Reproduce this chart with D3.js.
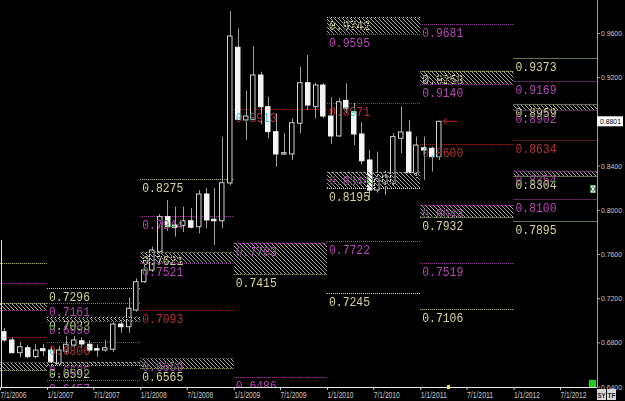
<!DOCTYPE html>
<html>
<head>
<meta charset="utf-8">
<script src="https://cdn.jsdelivr.net/npm/d3@7"></script>
<style>
  html, body { margin: 0; padding: 0; background: #000; }
  svg { display: block; }
  .lvl-text { font-family: "Liberation Mono", "DejaVu Sans Mono", monospace; font-size: 12px; }
  .axis-text { font-family: "Liberation Sans", Arial, sans-serif; font-size: 9px; fill: #c8c8c8; }
  .price-text { font-family: "Liberation Sans", Arial, sans-serif; font-size: 7.5px; fill: #c8c8c8; }
  .blend { mix-blend-mode: difference; }
</style>
</head>
<body>
<svg id="chart" width="625" height="401"></svg>
<script>
// monthly candles, Jul 2006 .. Mar 2011
var months = ["2006-07","2006-08","2006-09","2006-10","2006-11","2006-12",
  "2007-01","2007-02","2007-03","2007-04","2007-05","2007-06","2007-07","2007-08","2007-09","2007-10","2007-11","2007-12",
  "2008-01","2008-02","2008-03","2008-04","2008-05","2008-06","2008-07","2008-08","2008-09","2008-10","2008-11","2008-12",
  "2009-01","2009-02","2009-03","2009-04","2009-05","2009-06","2009-07","2009-08","2009-09","2009-10","2009-11","2009-12",
  "2010-01","2010-02","2010-03","2010-04","2010-05","2010-06","2010-07","2010-08","2010-09","2010-10","2010-11","2010-12",
  "2011-01","2011-02","2011-03"];
var opens  = [0.6897,0.6822,0.6707,0.6752,0.6671,0.6743, 0.6731,0.6610,0.6722,0.6776,0.6815,0.6783,0.6743,0.6731,0.6738,0.6966,0.6942,0.7093,
  0.7349,0.7455,0.7621,0.7938,0.7862,0.7860,0.7901,0.7847,0.8143,0.7914,0.7901,0.8243, 0.9471,0.8813,0.8819,0.9220,0.8933,0.8707,0.8505,0.8505,0.8783,0.9150,0.8933,0.9129,
  0.8849,0.8668,0.8990,0.8888,0.8686,0.8451,0.8179,0.8243,0.8240,0.8647,0.8704,0.8330, 0.8562,0.8557,0.8481];
var highs  = [0.6930,0.6846,0.6806,0.6776,0.6783,0.6786, 0.6761,0.6767,0.6858,0.6858,0.6846,0.6822,0.6783,0.6822,0.6996,0.7003,0.7208,0.7380,
  0.7516,0.7666,0.7962,0.8089,0.8028,0.8028,0.8016,0.8179,0.8197,0.8197,0.8662,0.9799, 0.9643,0.9078,0.9482,0.9250,0.9024,0.8873,0.8692,0.8828,0.9295,0.9401,0.9150,0.9145,
  0.9018,0.9012,0.9145,0.8967,0.8794,0.8541,0.8526,0.8354,0.8692,0.8933,0.8813,0.8662, 0.8662,0.8571,0.8805];
var lows   = [0.6806,0.6701,0.6665,0.6656,0.6656,0.6677, 0.6595,0.6586,0.6701,0.6756,0.6756,0.6716,0.6671,0.6716,0.6716,0.6888,0.6888,0.7078,
  0.7338,0.7437,0.7606,0.7808,0.7757,0.7799,0.7833,0.7787,0.7833,0.7681,0.7833,0.8224, 0.8813,0.8632,0.8813,0.8776,0.8647,0.8390,0.8496,0.8451,0.8692,0.8903,0.8828,0.8831,
  0.8596,0.8659,0.8873,0.8586,0.8410,0.8089,0.8155,0.8134,0.8224,0.8511,0.8330,0.8285, 0.8270,0.8345,0.8451];
var closes = [0.6822,0.6707,0.6761,0.6671,0.6731,0.6725, 0.6625,0.6731,0.6783,0.6822,0.6786,0.6731,0.6731,0.6752,0.6966,0.6942,0.7109,0.7349,
  0.7455,0.7636,0.7938,0.7847,0.7842,0.7901,0.7842,0.8143,0.7908,0.7901,0.8245,0.9573, 0.8819,0.8849,0.9220,0.8933,0.8707,0.8505,0.8517,0.8788,0.9150,0.8948,0.9129,0.8849,
  0.8668,0.8978,0.8921,0.8686,0.8444,0.8179,0.8285,0.8306,0.8662,0.8704,0.8336,0.8586, 0.8541,0.8481,0.8801];

// yearly level periods and their levels (null = off the chart)
var periods   = ["2006-01-01","2007-01-01","2008-01-01","2009-01-01","2010-01-01","2011-01-01","2012-01-01","2013-01-01"];
var upperY    = [0.7521, 0.7296, 0.8275, null,   null,   null,   0.9373];
var upperM    = [0.7340, 0.7161, 0.7944, null,   null,   0.9681, 0.9169];
var zoneHiY   = [0.7157, 0.7033, 0.7621, null,   0.9742, 0.9258, 0.8959];
var zoneHiM   = [0.7093, 0.6990, 0.7521, null,   0.9595, 0.9140, 0.8902];
var pivots    = [0.6852, 0.6806, 0.7093, 0.8913, 0.8971, 0.8600, 0.8634];
var zoneLoM   = [0.6623, 0.6625, 0.6659, 0.7703, 0.8344, 0.8043, 0.8354];
var zoneLoY   = [0.6550, 0.6592, 0.6565, 0.7415, 0.8195, 0.7932, 0.8304];
var lowerM    = [null,   0.6457, null,   0.6486, 0.7722, 0.7519, 0.8100];
var lowerY    = [null,   null,   null,   null,   0.7245, 0.7106, 0.7895];

var priceTicks = [0.64, 0.68, 0.72, 0.76, 0.80, 0.84, 0.88, 0.92, 0.96];
var dateTicks = ["2006-07-01","2007-01-01","2007-07-01","2008-01-01","2008-07-01","2009-01-01","2009-07-01",
  "2010-01-01","2010-07-01","2011-01-01","2011-07-01","2012-01-01","2012-07-01"];
var lastPrice = 0.8801;

var YEL = "#d6d69a", MAG = "#b447b4", RED = "#b83232";
var W = 597, H = 387;

var parseDay = d3.timeParse("%Y-%m-%d");
var parseMonth = d3.timeParse("%Y-%m");

var svg = d3.select("#chart");
svg.append("rect").attr("width", 625).attr("height", 401).attr("fill", "#000");

var x = d3.scaleTime()
  .domain([parseDay("2006-07-01"), parseDay("2012-07-01")])
  .range([0, 560]);
var y = d3.scaleLinear().domain([0.64, 0.96]).range([386.6, 33]);

var defs = svg.append("defs");
defs.append("clipPath").attr("id", "plot-clip")
  .append("rect").attr("x", 0).attr("y", 0).attr("width", W).attr("height", H);
var pat = defs.append("pattern").attr("id", "hatch")
  .attr("patternUnits", "userSpaceOnUse").attr("width", 4).attr("height", 4);
pat.append("path").attr("d", "M0,0 L4,4 M-1,3 L1,5 M3,-1 L5,1")
  .attr("stroke", "#a8a8a8").attr("stroke-width", 1);

var plot = svg.append("g").attr("clip-path", "url(#plot-clip)");

// level lines are drawn under the candles, labels and hatch over them
var lineLayer = plot.append("g");
var candleLayer = plot.append("g");
var overLayer = plot.append("g");

var levelSets = [
  { vals: upperY, col: YEL }, { vals: upperM, col: MAG },
  { vals: zoneHiY, col: YEL }, { vals: zoneHiM, col: MAG },
  { vals: pivots, col: RED },
  { vals: zoneLoM, col: MAG }, { vals: zoneLoY, col: YEL },
  { vals: lowerM, col: MAG }, { vals: lowerY, col: YEL }
];

// hatched zones
[[zoneHiY, zoneHiM], [zoneLoM, zoneLoY]].forEach(function(pair) {
  pair[0].forEach(function(v, i) {
    var w = pair[1][i];
    if (v === null || w === null) { return; }
    var x0 = x(parseDay(periods[i])), x1 = x(parseDay(periods[i + 1]));
    overLayer.append("rect")
      .attr("class", "blend")
      .attr("x", x0).attr("width", x1 - x0)
      .attr("y", y(Math.max(v, w))).attr("height", Math.abs(y(v) - y(w)))
      .attr("fill", "url(#hatch)");
  });
});

levelSets.forEach(function(set) {
  set.vals.forEach(function(v, i) {
    if (v === null) { return; }
    var x0 = x(parseDay(periods[i])), x1 = x(parseDay(periods[i + 1]));
    var yy = Math.round(y(v)) + 0.5;
    lineLayer.append("line")
      .attr("x1", x0).attr("x2", x1).attr("y1", yy).attr("y2", yy)
      .attr("stroke", set.col).attr("stroke-dasharray", "1,1");
    // labels sit at the period start, so the first period's are off screen
    if (x0 < 0) { return; }
    overLayer.append("text")
      .attr("class", "lvl-text blend")
      .attr("x", x0 + 2).attr("y", yy + 12)
      .attr("textLength", 41).attr("lengthAdjust", "spacingAndGlyphs")
      .attr("fill", set.col)
      .text(v.toFixed(4));
  });
});

// candles
var candles = months.map(function(m, i) {
  return { date: d3.timeDay.offset(parseMonth(m), 15), o: opens[i], h: highs[i], l: lows[i], c: closes[i] };
});
var bw = 5.5;
var cg = candleLayer.selectAll("g.candle").data(candles).enter().append("g").attr("class", "candle");
cg.append("line")
  .attr("x1", function(d) { return Math.round(x(d.date)) + 0.5; })
  .attr("x2", function(d) { return Math.round(x(d.date)) + 0.5; })
  .attr("y1", function(d) { return y(d.h); })
  .attr("y2", function(d) { return y(d.l); })
  .attr("stroke", "#a0a0a0");
cg.append("rect")
  .attr("x", function(d) { return Math.round(x(d.date) - bw / 2) + 0.5; })
  .attr("width", bw - 1)
  .attr("y", function(d) { return y(Math.max(d.o, d.c)); })
  .attr("height", function(d) { return Math.max(1, Math.abs(y(d.o) - y(d.c))); })
  .attr("fill", function(d) { return d.c >= d.o ? "#000" : "#f4f4f4"; })
  .attr("stroke", function(d) { return d.c >= d.o ? "#d0d0d0" : "#f4f4f4"; });

// left border and axis lines
svg.append("line").attr("x1", 1.5).attr("x2", 1.5).attr("y1", 240).attr("y2", H)
  .attr("stroke", "#e0e0e0");
svg.append("line").attr("x1", 0).attr("x2", W).attr("y1", H + 0.5).attr("y2", H + 0.5)
  .attr("stroke", "#e8e8e8");
svg.append("line").attr("x1", W + 0.5).attr("x2", W + 0.5).attr("y1", 0).attr("y2", H)
  .attr("stroke", "#a0a0a0");

// right price axis
var yAxis = svg.append("g").attr("transform", "translate(" + W + ",0)")
  .call(d3.axisRight(y).tickValues(priceTicks).tickSize(3).tickFormat(d3.format(".4f")));
yAxis.select(".domain").remove();
yAxis.selectAll("line").attr("stroke", "#a0a0a0");
yAxis.selectAll("text").attr("class", "price-text").attr("x", 4)
  .attr("textLength", 21).attr("lengthAdjust", "spacingAndGlyphs");

// bottom date axis
var fmt = d3.timeFormat("%-m/%-d/%Y");
var xAxis = svg.append("g").attr("transform", "translate(0," + H + ")")
  .call(d3.axisBottom(x).tickValues(dateTicks.map(parseDay)).tickSize(3).tickFormat(fmt));
xAxis.select(".domain").remove();
xAxis.selectAll("line").attr("stroke", "#d0d0d0");
xAxis.selectAll("text").attr("class", "axis-text").attr("text-anchor", "start")
  .attr("x", 0).attr("y", 5).attr("dy", "0.71em")
  .attr("textLength", 26).attr("lengthAdjust", "spacingAndGlyphs");

// last price tag
var ly = y(lastPrice);
svg.append("rect").attr("x", W).attr("y", ly - 5).attr("width", 26).attr("height", 10).attr("fill", "#fff");
svg.append("text").attr("class", "price-text").attr("x", W + 3).attr("y", ly + 3)
  .style("fill", "#000")
  .attr("textLength", 21).attr("lengthAdjust", "spacingAndGlyphs").text(lastPrice.toFixed(4));

// red arrow pointing at the last candle
var ax = x(candles[candles.length - 1].date) + 4;
svg.append("path")
  .attr("d", "M" + (ax + 14) + "," + ly + " L" + ax + "," + ly + " M" + (ax + 4) + "," + (ly - 3) + " L" + ax + "," + ly + " L" + (ax + 4) + "," + (ly + 3))
  .attr("stroke", "#d02020").attr("fill", "none");

// small widgets
svg.append("rect").attr("x", 589).attr("y", 380).attr("width", 7).attr("height", 7).attr("fill", "#18d018");
svg.append("rect").attr("x", 447).attr("y", 385).attr("width", 3).attr("height", 4).attr("fill", "#e8e840");
svg.append("rect").attr("x", 590).attr("y", 185).attr("width", 6).attr("height", 8).attr("fill", "#2b7a3a");
svg.append("path").attr("d", "M591,186 L595,186 L591,192 L595,192 Z").attr("fill", "none").attr("stroke", "#fff");
["SY", "TF"].forEach(function(t, i) {
  svg.append("rect").attr("x", 597 + i * 10).attr("y", 389).attr("width", 9).attr("height", 11).attr("fill", "#d8d8d8");
  svg.append("text").attr("x", 597.5 + i * 10).attr("y", 397.5)
    .style("font-family", "Liberation Sans, Arial, sans-serif").style("font-size", "7px").style("font-weight", "bold")
    .attr("fill", "#202020").attr("textLength", 8).attr("lengthAdjust", "spacingAndGlyphs").text(t);
});
</script>
</body>
</html>
